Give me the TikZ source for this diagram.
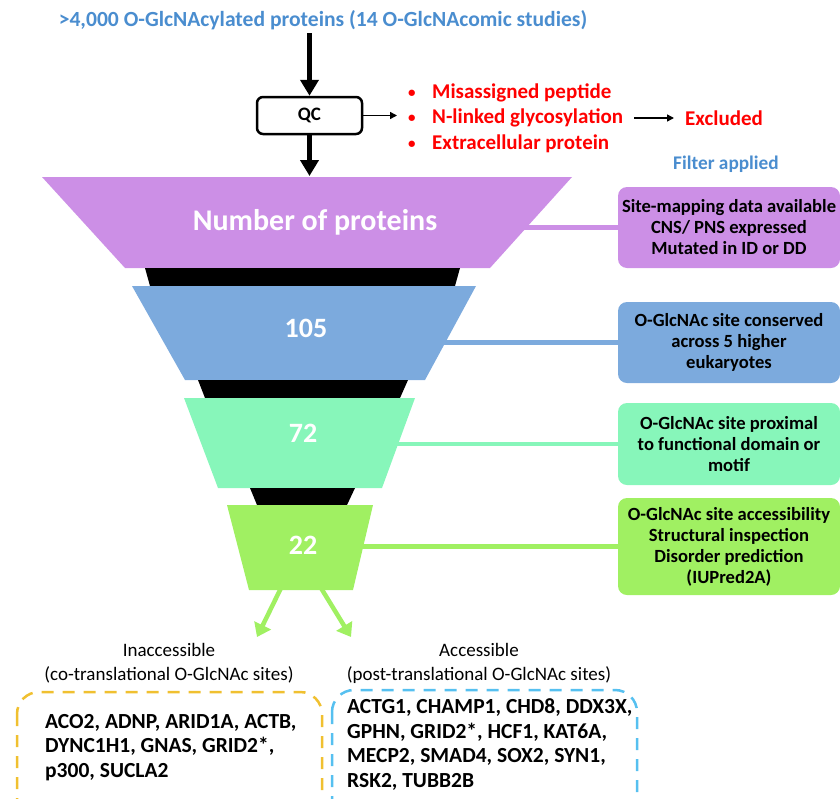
\documentclass[tikz,border=0pt]{standalone}
\usepackage{fontspec}
\setmainfont{Carlito}
\usetikzlibrary{arrows.meta}
\definecolor{topblue}{RGB}{74,141,207}
\definecolor{lvlone}{RGB}{204,143,230}
\definecolor{lvltwo}{RGB}{124,170,221}
\definecolor{lvlthree}{RGB}{135,246,186}
\definecolor{lvlfour}{RGB}{160,240,98}
\definecolor{inaccol}{RGB}{240,192,48}
\definecolor{acccol}{RGB}{86,192,240}
\newcommand{\redbullet}{\makebox[24pt][l]{\raisebox{1.5pt}{\fontsize{15}{15}\selectfont\textbullet}}}
\tikzset{
  filterbox/.style={rounded corners=9pt, minimum width=222pt, align=center,
    font=\bfseries\fontsize{18.6}{21}\selectfont, inner sep=2pt},
  link/.style={line width=4.5pt},
  flowarrow/.style={line width=4.5pt, -{Triangle[length=16pt,width=18pt]}},
  smallarrow/.style={line width=1.5pt, -{Triangle[length=7pt,width=7pt]}},
  greenarrow/.style={line width=4.5pt, lvlfour, -{Triangle[length=13pt,width=18pt]}},
  funneltext/.style={text=white, font=\bfseries\fontsize{28}{32}\selectfont},
  redtext/.style={text=red, font=\bfseries\fontsize{21}{24}\selectfont, anchor=west,
    inner xsep=11pt, inner ysep=2pt},
  genebox/.style={line width=2.5pt, rounded corners=22pt, dash pattern=on 12pt off 9pt},
  genelist/.style={anchor=west, align=left, inner sep=0pt,
    font=\bfseries\fontsize{21.5}{24.6}\selectfont},
  sitelabel/.style={align=center, font=\fontsize{19}{24}\selectfont}
}
\begin{document}
\begin{tikzpicture}[x=1pt,y=-1pt]
\useasboundingbox (0,0) rectangle (840,798);

\node[text=topblue, font=\bfseries\fontsize{21.6}{26}\selectfont] (src) at (323,20)
  {>4,000 O-GlcNAcylated proteins (14 O-GlcNAcomic studies)};
\node[draw, line width=2.5pt, rounded corners=6pt, minimum width=105pt, minimum height=37pt,
  font=\bfseries\fontsize{19}{22}\selectfont] (qc) at (309.5,115.5) {QC};
\coordinate (ftop) at (309.5,176);
\draw[flowarrow] (src.south -| qc) -- (qc.north);
\draw[flowarrow] (qc) -- (ftop);

\node[redtext] (misp) at (397,93) {\redbullet Misassigned peptide};
\node[redtext] (nlink) at (397,118) {\redbullet N-linked glycosylation};
\node[redtext] (extra) at (397,144) {\redbullet Extracellular protein};
\node[redtext] (excl) at (674,118) {Excluded};
\draw[smallarrow] (qc.east) -- (qc.east -| nlink.west);
\draw[smallarrow] (nlink.east) -- (excl.west);

\node[text=topblue, font=\bfseries\fontsize{19.3}{22}\selectfont] (fapp) at (726,164) {Filter applied};

\node[filterbox, fill=lvlone, minimum height=81pt] (fone) at (729,227.5)
  {Site-mapping data available\\CNS/ PNS expressed\\Mutated in ID or DD};
\node[filterbox, fill=lvltwo, minimum height=81pt] (ftwo) at (729,342.5)
  {O-GlcNAc site conserved\\across 5 higher\\eukaryotes};
\node[filterbox, fill=lvlthree, minimum height=82pt] (fthree) at (729,444)
  {O-GlcNAc site proximal\\to functional domain or\\motif};
\node[filterbox, fill=lvlfour, minimum height=97pt] (ffour) at (729,546.5)
  {O-GlcNAc site accessibility\\Structural inspection\\Disorder prediction\\(IUPred2A)};

\draw[link, lvlone] (fone.west) -- (fone.west -| ftop);
\draw[link, lvltwo] (ftwo.west) -- (ftwo.west -| ftop);
\draw[link, lvlthree] (fthree.west) -- (fthree.west -| ftop);
\draw[link, lvlfour] (ffour.west) -- (ffour.west -| ftop);

\fill[lvlone] (42,177) -- (572,177) -- (490,268) -- (125,268) -- cycle;
\fill[black] (145,268) -- (460,268) -- (455,286) -- (150,286) -- cycle;
\fill[lvltwo] (132,286) -- (476,286) -- (425,380) -- (185,380) -- cycle;
\fill[black] (198,380) -- (408,380) -- (400,398) -- (205,398) -- cycle;
\fill[lvlthree] (184,398) -- (415,398) -- (382,488) -- (218,488) -- cycle;
\fill[black] (250,488) -- (355,488) -- (347,505) -- (257,505) -- cycle;
\fill[lvlfour] (227,505) -- (373,505) -- (353,590) -- (249,590) -- cycle;

\node[funneltext, font=\bfseries\fontsize{30}{34}\selectfont] (nprot) at (315,222) {Number of proteins};
\node[funneltext] (nfirst) at (306,328) {105};
\node[funneltext] (nsecond) at (303,433) {72};
\node[funneltext] (nthird) at (303,545) {22};

\coordinate (sl) at (281,588);
\coordinate (sr) at (321,588);
\coordinate (el) at (257,637);
\coordinate (er) at (351,637);
\draw[greenarrow] (sl) -- (el);
\draw[greenarrow] (sr) -- (er);

\node[sitelabel] (inacc) at (169,663)
  {Inaccessible\\(co-translational O-GlcNAc sites)};
\node[sitelabel] (acc) at (479,663)
  {Accessible\\(post-translational O-GlcNAc sites)};

\draw[genebox, inaccol] (17,692) rectangle (322,840);
\draw[genebox, acccol] (332,690) rectangle (637,840);

\node[genelist] (inlist) at (45,747.5)
  {ACO2, ADNP, ARID1A, ACTB,\\DYNC1H1, GNAS, GRID2*,\\p300, SUCLA2};
\node[genelist] (aclist) at (347,744.5)
  {ACTG1, CHAMP1, CHD8, DDX3X,\\GPHN, GRID2*, HCF1, KAT6A,\\MECP2, SMAD4, SOX2, SYN1,\\RSK2, TUBB2B};
\end{tikzpicture}
\end{document}
